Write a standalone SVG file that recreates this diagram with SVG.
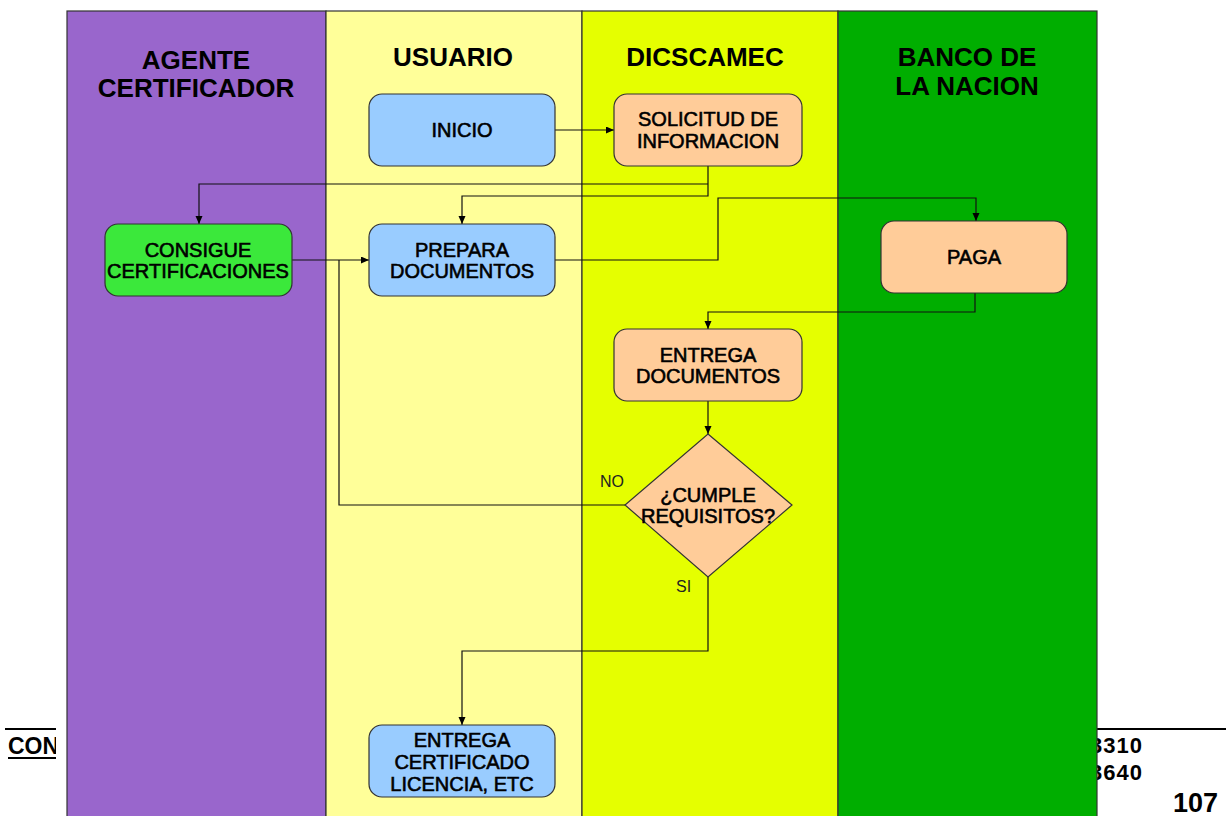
<svg xmlns="http://www.w3.org/2000/svg" width="1226" height="816" viewBox="0 0 1226 816">
<defs>
<marker id="arr" markerUnits="userSpaceOnUse" markerWidth="9" markerHeight="8" refX="8" refY="3.5" orient="auto">
<path d="M0,0 L8,3.5 L0,7 z" fill="#000"/>
</marker>
<style>
.lane{stroke:#333;stroke-width:1.2}
.hdr{font-family:"Liberation Sans",Arial,sans-serif;font-weight:bold;font-size:26px;fill:#000;text-anchor:middle}
.node{stroke:#333;stroke-width:1.2}
.t{font-family:"Liberation Sans",Arial,sans-serif;font-size:20px;fill:#000;stroke:#000;stroke-width:0.6;text-anchor:middle}
.lbl{font-family:"Liberation Sans",Arial,sans-serif;font-size:16px;fill:#222}
.ft{font-family:"Liberation Sans",Arial,sans-serif;font-weight:bold;fill:#000}
.c{fill:none;stroke:#111;stroke-width:1.2}
.ca{fill:none;stroke:#111;stroke-width:1.2;marker-end:url(#arr)}
</style>
</defs>
<rect width="1226" height="816" fill="#fff"/>
<g id="footer">
<line x1="5" y1="729" x2="56" y2="729" stroke="#000" stroke-width="2"/>
<text class="ft" x="8" y="754" font-size="23">CON</text>
<line x1="8" y1="758" x2="56" y2="758" stroke="#000" stroke-width="2"/>
<rect x="56" y="700" width="12" height="116" fill="#fff"/>
<line x1="1097" y1="729" x2="1226" y2="729" stroke="#000" stroke-width="2"/>
<text class="ft" x="1143" y="753" font-size="22" letter-spacing="1" text-anchor="end">3310</text>
<text class="ft" x="1143" y="780" font-size="22" letter-spacing="1" text-anchor="end">3640</text>
<text class="ft" x="1218" y="812" font-size="27" text-anchor="end">107</text>
</g>
<g id="lanes">
<rect class="lane" x="67" y="11" width="259" height="820" fill="#9966CC"/>
<rect class="lane" x="326" y="11" width="256" height="820" fill="#FFFF99"/>
<rect class="lane" x="582" y="11" width="256" height="820" fill="#E5FF00"/>
<rect class="lane" x="838" y="11" width="259" height="820" fill="#00AE00"/>
<text class="hdr" x="196" y="69">AGENTE</text>
<text class="hdr" x="196" y="97">CERTIFICADOR</text>
<text class="hdr" x="453" y="66">USUARIO</text>
<text class="hdr" x="705" y="66">DICSCAMEC</text>
<text class="hdr" x="967" y="66">BANCO DE</text>
<text class="hdr" x="967" y="95">LA NACION</text>
</g>
<g id="connectors">
<path class="ca" d="M555,130 H614"/>
<path class="ca" d="M708,166 V196 H462 V224"/>
<path class="ca" d="M708,184 H199 V224"/>
<path class="ca" d="M555,260 H718 V198 H976 V221"/>
<path class="ca" d="M975,293 V312 H708 V329"/>
<path class="ca" d="M708,401 V434"/>
<path class="c" d="M625,505 H339 V260"/>
<path class="ca" d="M292,260 H369"/>
<path class="ca" d="M708,577 V651 H462 V725"/>
<text class="lbl" x="600" y="487">NO</text>
<text class="lbl" x="676" y="592">SI</text>
</g>
<g id="inicio">
<rect class="node" x="369" y="94" width="186" height="72" rx="13" fill="#99CCFF"/>
<text class="t" x="462" y="137">INICIO</text>
</g>
<g id="solicitud">
<rect class="node" x="614" y="94" width="188" height="72" rx="13" fill="#FFCC99"/>
<text class="t" x="708" y="126">SOLICITUD DE</text>
<text class="t" x="708" y="148">INFORMACION</text>
</g>
<g id="consigue">
<rect class="node" x="105" y="224" width="187" height="72" rx="13" fill="#3BE83B"/>
<text class="t" x="198" y="257">CONSIGUE</text>
<text class="t" x="198" y="278">CERTIFICACIONES</text>
</g>
<g id="prepara">
<rect class="node" x="369" y="224" width="186" height="72" rx="13" fill="#99CCFF"/>
<text class="t" x="462" y="257">PREPARA</text>
<text class="t" x="462" y="278">DOCUMENTOS</text>
</g>
<g id="paga">
<rect class="node" x="881" y="221" width="186" height="72" rx="13" fill="#FFCC99"/>
<text class="t" x="974" y="264">PAGA</text>
</g>
<g id="entrega-docs">
<rect class="node" x="614" y="329" width="188" height="72" rx="13" fill="#FFCC99"/>
<text class="t" x="708" y="362">ENTREGA</text>
<text class="t" x="708" y="383">DOCUMENTOS</text>
</g>
<g id="cumple">
<polygon class="node" points="708,434 792,505 708,577 625,505" fill="#FFCC99"/>
<text class="t" x="708" y="502">¿CUMPLE</text>
<text class="t" x="708" y="523">REQUISITOS?</text>
</g>
<g id="entrega-cert">
<rect class="node" x="369" y="725" width="186" height="72" rx="13" fill="#99CCFF"/>
<text class="t" x="462" y="747">ENTREGA</text>
<text class="t" x="462" y="769">CERTIFICADO</text>
<text class="t" x="462" y="791">LICENCIA, ETC</text>
</g>
</svg>
